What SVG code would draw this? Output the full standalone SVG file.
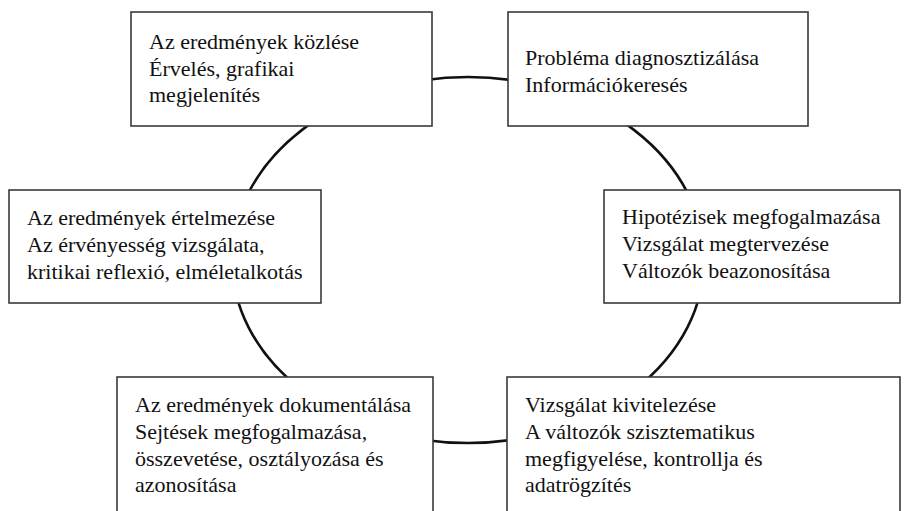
<svg xmlns="http://www.w3.org/2000/svg" width="909" height="511" viewBox="0 0 909 511">
<style>
.box{fill:#fff;stroke:#3a3a3a;stroke-width:1.6}
.t{font-family:"Liberation Serif","Times New Roman",serif;font-size:22px;fill:#111}
.ring{fill:none;stroke:#111;stroke-width:2.6}
</style>
<rect width="909" height="511" fill="#fff"/>
<g id="connectors">
<ellipse class="ring" cx="468" cy="260" rx="236" ry="183"/>
</g>
<g id="n1">
<rect class="box" x="131" y="12" width="301" height="114"/>
<text class="t" x="149" y="49">Az eredmények közlése</text>
<text class="t" x="149" y="76">Érvelés, grafikai</text>
<text class="t" x="149" y="102">megjelenítés</text>
</g>
<g id="n2">
<rect class="box" x="508" y="12" width="300" height="114"/>
<text class="t" x="525" y="65">Probléma diagnosztizálása</text>
<text class="t" x="525" y="92">Információkeresés</text>
</g>
<g id="n3">
<rect class="box" x="9" y="190" width="312" height="113"/>
<text class="t" x="27" y="225">Az eredmények értelmezése</text>
<text class="t" x="27" y="252">Az érvényesség vizsgálata,</text>
<text class="t" x="27" y="279">kritikai reflexió, elméletalkotás</text>
</g>
<g id="n4">
<rect class="box" x="604" y="190" width="296" height="113"/>
<text class="t" x="622" y="224">Hipotézisek megfogalmazása</text>
<text class="t" x="622" y="251">Vizsgálat megtervezése</text>
<text class="t" x="622" y="278">Változók beazonosítása</text>
</g>
<g id="n5">
<rect class="box" x="117" y="377" width="316" height="150"/>
<text class="t" x="135" y="412">Az eredmények dokumentálása</text>
<text class="t" x="135" y="439">Sejtések megfogalmazása,</text>
<text class="t" x="135" y="466">összevetése, osztályozása és</text>
<text class="t" x="135" y="492">azonosítása</text>
</g>
<g id="n6">
<rect class="box" x="507" y="377" width="393" height="150"/>
<text class="t" x="525" y="412">Vizsgálat kivitelezése</text>
<text class="t" x="525" y="439">A változók szisztematikus</text>
<text class="t" x="525" y="466">megfigyelése, kontrollja és</text>
<text class="t" x="525" y="492">adatrögzítés</text>
</g>
</svg>
